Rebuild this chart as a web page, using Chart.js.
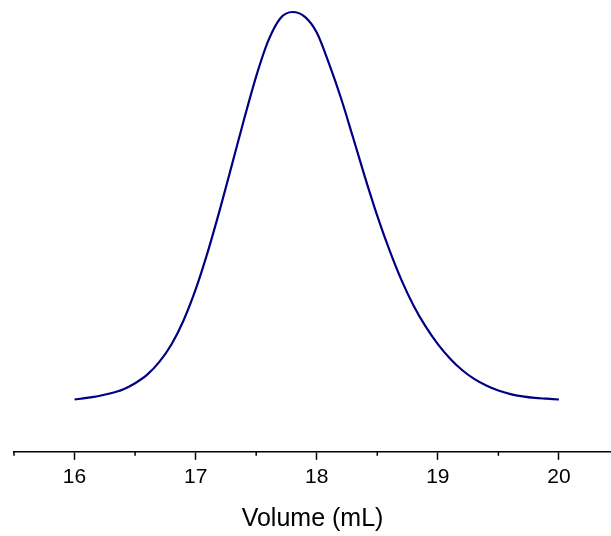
<!DOCTYPE html>
<html>
<head>
<meta charset="utf-8">
<script src="https://cdn.jsdelivr.net/npm/chart.js@4/dist/chart.umd.min.js"></script>
<style>
    html, body { margin: 0; padding: 0; background: #fff; }
    #wrap { width: 611px; height: 536px; position: relative; }
</style>
</head>
<body>
<div id="wrap"><canvas id="chart"></canvas></div>
<script>
// ============================================
// Elution peak
// ============================================

const volumes = [
    16.0, 16.1, 16.2, 16.3, 16.4, 16.5, 16.6, 16.7, 16.8, 16.9,
    17.0, 17.1, 17.2, 17.3, 17.4, 17.5, 17.6, 17.7, 17.8, 17.9,
    18.0, 18.1, 18.2, 18.3, 18.4, 18.5, 18.6, 18.7, 18.8, 18.9,
    19.0, 19.1, 19.2, 19.3, 19.4, 19.5, 19.6, 19.7, 19.8, 19.9, 20.0
];

const signal = [
    0.000, 0.004, 0.009, 0.016, 0.026, 0.042, 0.064, 0.097, 0.142, 0.204,
    0.284, 0.381, 0.490, 0.606, 0.723, 0.834, 0.926, 0.984, 1.000, 0.988,
    0.947, 0.868, 0.778, 0.676, 0.572, 0.474, 0.386, 0.308, 0.242, 0.188,
    0.143, 0.106, 0.076, 0.053, 0.036, 0.023, 0.014, 0.008, 0.004, 0.002, 0.000
];

const majorTicks = [16, 17, 18, 19, 20];
const minorTicks = [15.5, 16.5, 17.5, 18.5, 19.5];

const FONT = '"Liberation Sans", Arial, sans-serif';

// minor ticks are shorter than the major ones, so draw them here
const minorTickPlugin = {
    id: 'minorTicks',
    afterDraw(chart) {
        const scale = chart.scales.x;
        const ctx = chart.ctx;
        ctx.save();
        ctx.strokeStyle = '#000';
        ctx.lineWidth = 1.5;
        minorTicks.forEach(v => {
            const px = scale.getPixelForValue(v);
            ctx.beginPath();
            ctx.moveTo(px, scale.top);
            ctx.lineTo(px, scale.top + 4);
            ctx.stroke();
        });
        ctx.restore();
    }
};

new Chart(document.getElementById('chart'), {
    type: 'line',
    data: {
        datasets: [{
            data: volumes.map((v, i) => ({ x: v, y: signal[i] })),
            borderColor: '#000080',
            borderWidth: 2.2,
            pointRadius: 0,
            cubicInterpolationMode: 'monotone',
            fill: false
        }]
    },
    options: {
        responsive: true,
        maintainAspectRatio: false,
        animation: false,
        layout: { padding: { top: 5, left: 14, right: 0, bottom: 0 } },
        plugins: {
            legend: { display: false },
            tooltip: { enabled: false }
        },
        scales: {
            x: {
                type: 'linear',
                min: 15.5,
                max: 20.43,
                border: { display: true, color: '#000', width: 1.5 },
                grid: {
                    drawOnChartArea: false,
                    tickLength: 8,
                    tickWidth: 1.5,
                    tickColor: ctx => majorTicks.includes(ctx.tick && ctx.tick.value) ? '#000' : 'rgba(0,0,0,0)'
                },
                ticks: {
                    stepSize: 0.5,
                    includeBounds: false,
                    maxRotation: 0,
                    autoSkip: false,
                    color: '#000',
                    padding: 4.5,
                    font: { family: FONT, size: 21 },
                    callback: v => majorTicks.includes(v) ? String(v) : ''
                },
                title: {
                    display: true,
                    text: 'Volume (mL)',
                    color: '#000',
                    font: { family: FONT, size: 25 },
                    padding: { top: 10, bottom: 2 }
                }
            },
            y: {
                display: false,
                min: -0.135,
                max: 1.018
            }
        }
    },
    plugins: [minorTickPlugin]
});
</script>
</body>
</html>
